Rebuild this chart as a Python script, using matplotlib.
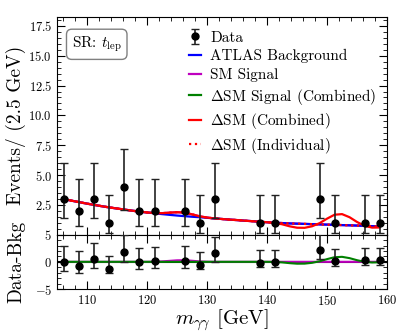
import numpy as np
import matplotlib
matplotlib.use('Agg')
import matplotlib.pyplot as plt
from matplotlib.ticker import MultipleLocator

# data points (bins of 2.5 GeV, empty bins not drawn)
mass = [106.25, 108.75, 111.25, 113.75, 116.25, 118.75, 121.25, 126.25,
        128.75, 131.25, 138.75, 141.25, 148.75, 151.25, 156.25, 158.75]
counts = [3, 2, 3, 1, 4, 2, 2, 2, 1, 3, 1, 1, 3, 1, 1, 1]
# Poisson (Garwood) interval edges
err_lo = [1.63, 1.29, 1.63, 0.83, 1.91, 1.29, 1.29, 1.29, 0.83, 1.63, 0.83, 0.83, 1.63, 0.83, 0.83, 0.83]
err_hi = [3.00, 2.64, 3.00, 2.30, 3.16, 2.64, 2.64, 2.64, 2.30, 3.00, 2.30, 2.30, 3.00, 2.30, 2.30, 2.30]
resid = [0.0, -0.74, 0.43, -1.3, 1.85, -0.05, 0.1, 0.2, -0.5, 1.6, -0.2, -0.05, 2.2, 0.1, 0.25, 0.3]

# model curves
grid = [106.25, 107.5, 108.75, 110.0, 111.25, 112.5, 113.75, 115.0, 116.25, 117.5,
        118.75, 120.0, 121.25, 122.5, 123.75, 125.0, 126.25, 127.5, 128.75, 130.0,
        131.25, 132.5, 133.75, 135.0, 136.25, 137.5, 138.75, 140.0, 141.25, 142.5,
        143.75, 145.0, 146.25, 147.5, 148.75, 150.0, 151.25, 152.5, 153.75, 155.0,
        156.25, 157.5, 158.75]
bkg = [2.97, 2.84, 2.72, 2.60, 2.49, 2.38, 2.28, 2.19, 2.10, 2.01,
       1.93, 1.86, 1.79, 1.72, 1.66, 1.60, 1.55, 1.50, 1.46, 1.41,
       1.36, 1.31, 1.26, 1.22, 1.17, 1.13, 1.08, 1.04, 1.00, 0.97,
       0.94, 0.92, 0.90, 0.88, 0.86, 0.84, 0.82, 0.80, 0.78, 0.76,
       0.74, 0.71, 0.68]
sm_sig = [0, 0, 0, 0, 0, 0, 0, 0, 0, 0,
          0, 0, 0.02, 0.08, 0.18, 0.28, 0.30, 0.20, 0.08, 0.02,
          0, 0, 0, 0, 0, 0, 0, 0, 0, 0,
          0, 0, 0, 0, 0, 0, 0, 0, 0, 0,
          0, 0, 0]
dsm_sig = [0, 0, 0, 0, 0, 0, 0, 0, 0, 0,
           0, 0, 0, 0, 0, 0, 0, 0, 0, 0,
           0, 0, 0, 0, 0, 0, 0, 0, -0.02, -0.10,
           -0.24, -0.34, -0.33, -0.18, 0.10, 0.50, 0.85, 0.92, 0.68, 0.30,
           0.0, -0.12, -0.08]

plt.rcParams['font.family'] = 'serif'
plt.rcParams['font.serif'] = ['cmr10']
plt.rcParams['mathtext.fontset'] = 'cm'
plt.rcParams['axes.formatter.use_mathtext'] = True
plt.rcParams['axes.unicode_minus'] = True

x = np.array(grid)
b = np.array(bkg)
s = np.array(sm_sig)
d = np.array(dsm_sig)

fig = plt.figure(figsize=(4.07, 3.33), dpi=100)
gs = fig.add_gridspec(2, 1, height_ratios=[4, 1], hspace=0,
                      left=0.14, right=0.951, top=0.949, bottom=0.132)
ax = fig.add_subplot(gs[0])
axr = fig.add_subplot(gs[1], sharex=ax)

h_data = ax.errorbar(mass, counts, yerr=[err_lo, err_hi], fmt='o', color='black', ecolor='#222222',
                     markersize=5, elinewidth=1.2, capsize=3, capthick=1.0, label='Data', zorder=5)
h_sm, = ax.plot(x, b + s, color='m', lw=1.6, label='SM Signal')
h_bkg, = ax.plot(x, b, color='blue', lw=1.6, label='ATLAS Background')
h_dsig, = ax.plot([], [], color='green', lw=1.6, label=r'$\Delta$SM Signal (Combined)')
h_comb, = ax.plot(x, b + s + d, color='red', lw=1.6, label=r'$\Delta$SM (Combined)')
h_ind, = ax.plot(x, b + s, color='red', lw=1.6, ls=':', label=r'$\Delta$SM (Individual)')

ax.set_xlim(105, 160)
ax.set_ylim(0, 18.25)
ax.set_yticks([2.5, 5.0, 7.5, 10.0, 12.5, 15.0, 17.5])
ax.yaxis.set_minor_locator(MultipleLocator(0.5))
ax.set_ylabel('Events/ (2.5 GeV)', fontsize=14)
ax.yaxis.set_label_coords(-0.095, 0.5)
ax.legend(handles=[h_data, h_bkg, h_sm, h_dsig, h_comb, h_ind],
          loc='upper right', bbox_to_anchor=(1.0, 0.985), frameon=False, fontsize=11,
          handlelength=0.8, handletextpad=0.6, labelspacing=0.3, borderaxespad=0.3)
ax.text(0.045, 0.86, r'SR: $t_{\rm lep}$', transform=ax.transAxes, fontsize=11,
        bbox=dict(boxstyle='round,pad=0.35', facecolor='white', edgecolor='grey', lw=1))

axr.axhline(0, color='black', lw=1.5)
axr.plot(x, s, color='m', lw=1.5)
axr.plot(x, d, color='green', lw=1.5)
axr.errorbar(mass, resid, yerr=[err_lo, err_hi], fmt='o', color='black', ecolor='#222222',
             markersize=5, elinewidth=1.2, capsize=3, capthick=1.0, zorder=5)
axr.set_ylim(-5, 5)
axr.set_yticks([-5, 0, 5])
axr.yaxis.set_minor_locator(MultipleLocator(1))
axr.set_ylabel('Data-Bkg', fontsize=14)
axr.yaxis.set_label_coords(-0.095, 0.5)
axr.set_xlabel(r'$m_{\gamma\gamma}$ [GeV]', fontsize=15, labelpad=0)
axr.xaxis.set_major_locator(MultipleLocator(10))
axr.xaxis.set_minor_locator(MultipleLocator(2))

for a in [ax, axr]:
    a.tick_params(which='both', direction='in', top=True, right=True, labelsize=9)
    a.tick_params(which='major', length=6)
    a.tick_params(which='minor', length=3)
ax.tick_params(labelbottom=False)

fig.savefig('out.png', dpi=100)
